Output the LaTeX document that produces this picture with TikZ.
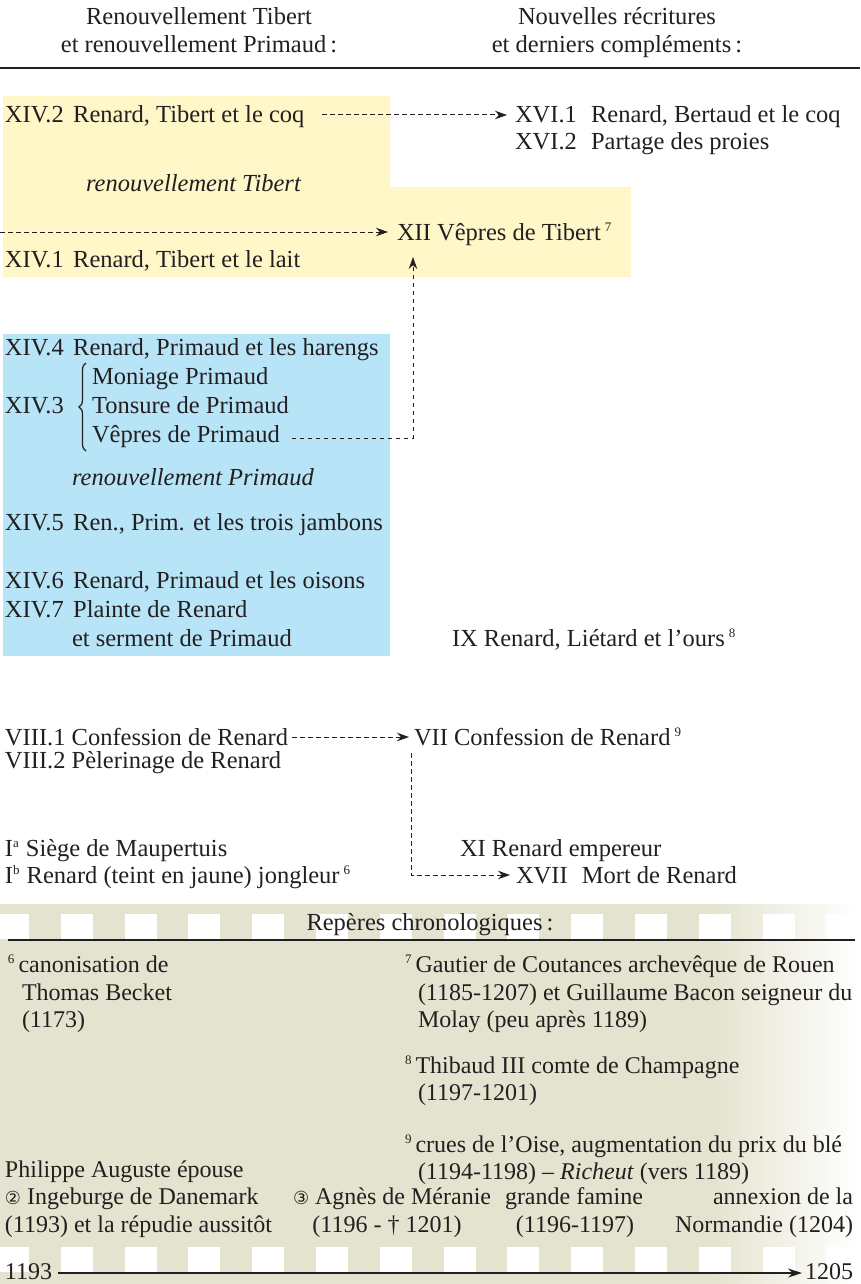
\documentclass[tikz,border=0pt]{standalone}
\usepackage{fontspec}
\setmainfont{Liberation Serif}
\newfontfamily\symfont{DejaVu Sans}
\usetikzlibrary{arrows.meta,decorations.pathreplacing}
\definecolor{tibertbg}{RGB}{255,247,200}
\definecolor{primaudbg}{RGB}{184,228,247}
\definecolor{chronobg}{RGB}{228,227,207}
\definecolor{ink}{RGB}{35,31,32}
\newcommand\fnm[1]{\raisebox{8.5pt}{\fontsize{13}{13}\selectfont #1}}
\newcommand\circnum[1]{{\symfont\fontsize{18}{18}\selectfont #1}}
\newcommand\gap{\hspace{9.5pt}}
\begin{document}
\begin{tikzpicture}[x=1pt,y=-1pt,
  every node/.style={inner sep=0pt,outer sep=0pt,text=ink,font=\fontsize{24.5}{29}\selectfont},
  lbl/.style={anchor=base west},
  lblr/.style={anchor=base east},
  lblc/.style={anchor=base},
  chrono/.style={font=\fontsize{24}{29}\selectfont},
  dashline/.style={draw=ink,line width=1pt,dash pattern=on 4.5pt off 3.5pt},
  dasharrow/.style={dashline,-{Stealth[length=12pt,width=8.5pt]}},
  rule/.style={draw=ink,line width=1.1pt},
  filmhole/.style={fill=white}]
\useasboundingbox (0,0) rectangle (860,1284);

% ---- coloured panels ----
\fill[tibertbg] (3,96) -- (390,96) -- (390,187) -- (631,187) -- (631,277) -- (3,277) -- cycle;
\fill[primaudbg] (3,334) rectangle (390,656);

% ---- chronology band with film-strip holes ----
\fill[chronobg] (0,904) rectangle (710,1284);
\shade[left color=chronobg,right color=white] (709.5,904) rectangle (860,1284);
\foreach \k in {0,...,13}{
  \fill[filmhole] ({-3+63.8*\k},914) rectangle ({29+63.8*\k},939);
  \fill[filmhole] ({-3+63.8*\k},1247) rectangle ({29+63.8*\k},1272);
}

% ---- column headings ----
\node[lblc] (h1a) at (199,25) {Renouvellement Tibert};
\node[lblc] (h1b) at (199,53) {et renouvellement Primaud\,:};
\node[lblc] (h2a) at (617,25) {Nouvelles récritures};
\node[lblc] (h2b) at (617,53) {et derniers compléments\,:};
\draw[rule] (0,68) -- (860,68);

% ---- renouvellement Tibert ----
\node[lbl] (xiv2) at (5,123) {XIV.2\gap Renard, Tibert et le coq};
\node[lbl] (xvi1) at (515,123) {XVI.1\hspace{8pt} Renard, Bertaud et le coq};
\node[lbl] (xvi2) at (515,150) {XVI.2\hspace{8pt} Partage des proies};
\node[lbl] (rtib) at (86,192) {\itshape renouvellement Tibert};
\node[lbl] (xii) at (397,240) {XII Vêpres de Tibert\,\fnm{7}};
\node[lbl] (xiv1) at (5,267) {XIV.1\gap Renard, Tibert et le lait};
\coordinate (tibsrc) at (0,232);

% ---- renouvellement Primaud ----
\node[lbl] (xiv4) at (5,355) {XIV.4\gap Renard, Primaud et les harengs};
\node[lbl] (monp) at (92,384) {Moniage Primaud};
\node[lbl] (xiv3) at (5,413) {XIV.3};
\node[lbl] (tonp) at (92,413) {Tonsure de Primaud};
\node[lbl] (vepp) at (92,442) {Vêpres de Primaud};
\draw[ink,line width=1.2pt,decorate,decoration={brace,amplitude=7pt}] (86,451) -- (86,363);
\node[lbl] (rpri) at (72,485) {\itshape renouvellement Primaud};
\node[lbl] (xiv5) at (5,530) {XIV.5\gap Ren., Prim. et les trois jambons};
\node[lbl] (xiv6) at (5,588) {XIV.6\gap Renard, Primaud et les oisons};
\node[lbl] (xiv7) at (5,617) {XIV.7\gap Plainte de Renard};
\node[lbl] (xiv7b) at (72,646) {et serment de Primaud};
\node[lbl] (ix) at (452,646) {IX Renard, Liétard et l’ours\,\fnm{8}};

% ---- confession, siège, mort ----
\node[lbl] (viii1) at (5,745) {VIII.1 Confession de Renard};
\node[lbl] (vii) at (414,745) {VII Confession de Renard\,\fnm{9}};
\node[lbl] (viii2) at (5,768) {VIII.2 Pèlerinage de Renard};
\node[lbl] (ia) at (5,856) {I\fnm{a}\hspace{7pt}Siège de Maupertuis};
\node[lbl] (ib) at (5,883) {I\fnm{b}\hspace{7pt}Renard (teint en jaune) jongleur\,\fnm{6}};
\node[lbl] (xi) at (460,856) {XI Renard empereur};
\node[lbl] (xvii) at (516,883) {XVII\hspace{8pt} Mort de Renard};

% ---- connectors ----
\draw[dasharrow] ([shift={(18,-8)}]xiv2.base east) -- ([shift={(-8,-8)}]xvi1.base west);
\draw[dasharrow] (tibsrc) -- ([shift={(-9,-8)}]xii.base west);
\draw[dasharrow] ([shift={(12,-4)}]vepp.base east) -| ([shift={(16,17)}]xii.base west);
\draw[dasharrow] ([shift={(4,-8)}]viii1.base east) -- ([shift={(-5,-8)}]vii.base west);
\draw[dasharrow] ([shift={(-3,8)}]vii.base west) |- ([shift={(-6,-8)}]xvii.base west);

% ---- repères chronologiques ----
\node[lblc] (rep) at (430,930) {Repères chronologiques\,:};
\draw[rule] (8,940) -- (855,940);

\begin{scope}[every node/.append style={chrono}]
\node[lbl] (n6a) at (8,972) {\fnm{6}\hspace{4pt}canonisation de};
\node[lbl] (n6b) at (22,1000) {Thomas Becket};
\node[lbl] (n6c) at (22,1027) {(1173)};

\node[lbl] (n7a) at (405,972) {\fnm{7}\hspace{4pt}Gautier de Coutances archevêque de Rouen};
\node[lbl] (n7b) at (418,1000) {(1185-1207) et Guillaume Bacon seigneur du};
\node[lbl] (n7c) at (418,1027) {Molay (peu après 1189)};

\node[lbl] (n8a) at (405,1073) {\fnm{8}\hspace{4pt}Thibaud III comte de Champagne};
\node[lbl] (n8b) at (418,1100) {(1197-1201)};

\node[lbl] (n9a) at (405,1152) {\fnm{9}\hspace{4pt}crues de l’Oise, augmentation du prix du blé};
\node[lbl] (n9b) at (418,1179) {(1194-1198) – \textit{Richeut} (vers 1189)};

\node[lbl] (pa) at (5,1177) {Philippe Auguste épouse};
\node[lbl] (ing) at (5,1204) {\circnum{②} Ingeburge de Danemark};
\node[lbl] (ing2) at (5,1232) {(1193) et la répudie aussitôt};
\node[lbl] (agn) at (293,1204) {\circnum{③} Agnès de Méranie};
\node[lblc] (agn2) at (387,1232) {(1196 - † 1201)};
\node[lbl] (fam) at (505,1204) {grande famine};
\node[lblc] (fam2) at (575,1232) {(1196-1197)};
\node[lblr] (ann) at (853,1204) {annexion de la};
\node[lblr] (ann2) at (853,1232) {Normandie (1204)};

\node[lbl] (y1193) at (5,1279) {1193};
\node[lblr] (y1205) at (853,1279) {1205};
\end{scope}
\draw[draw=ink,line width=1.1pt,-{Stealth[length=14pt,width=9pt]}] ([shift={(6,-6)}]y1193.base east) -- ([shift={(-3,-6)}]y1205.base west);
\end{tikzpicture}
\end{document}
